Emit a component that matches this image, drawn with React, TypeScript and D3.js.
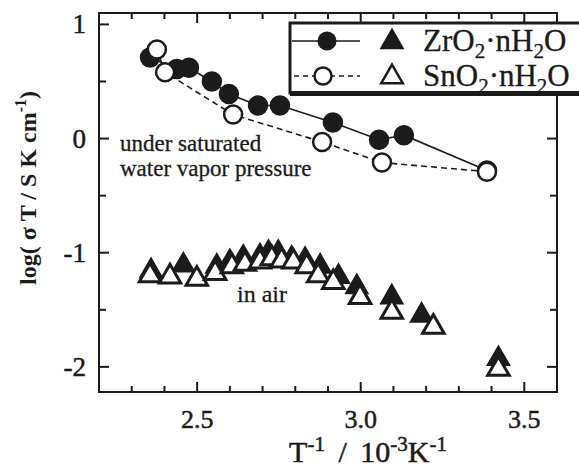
import * as d3 from "d3";

// saturated water vapor pressure (circles)
const zrSatT = [2.356, 2.438, 2.475, 2.545, 2.597, 2.686, 2.753, 2.915, 3.056, 3.132, 3.386];
const zrSatLog = [0.71, 0.61, 0.62, 0.50, 0.39, 0.29, 0.29, 0.14, -0.01, 0.03, -0.28];
const snSatT = [2.377, 2.402, 2.610, 2.882, 3.065, 3.386];
const snSatLog = [0.78, 0.58, 0.21, -0.03, -0.21, -0.29];

// in air (triangles)
const zrAirT = [2.359, 2.458, 2.560, 2.600, 2.641, 2.692, 2.718, 2.748, 2.789, 2.830, 2.876, 2.932, 2.988, 3.095, 3.186, 3.421];
const zrAirLog = [-1.16, -1.11, -1.12, -1.08, -1.04, -1.03, -1.00, -1.00, -1.05, -1.06, -1.12, -1.21, -1.30, -1.39, -1.55, -1.93];
const snAirT = [2.356, 2.417, 2.499, 2.555, 2.606, 2.646, 2.692, 2.728, 2.758, 2.794, 2.835, 2.870, 2.916, 2.998, 3.095, 3.222, 3.421];
const snAirLog = [-1.20, -1.21, -1.23, -1.18, -1.12, -1.10, -1.08, -1.05, -1.07, -1.08, -1.12, -1.20, -1.26, -1.39, -1.52, -1.65, -2.02];

const xMajor = [2.5, 3.0, 3.5];
const xLabels = ["2.5", "3.0", "3.5"];
const xMinor = [2.3, 2.4, 2.6, 2.7, 2.8, 2.9, 3.1, 3.2, 3.3, 3.4];
const yMajor = [1, 0, -1, -2];
const yLabels = ["1", "0", "-1", "-2"];
const yMinor = [0.5, -0.5, -1.5];

const W = 579, H = 468;
const left = 99, right = 557, top = 13, bottom = 392;
const ink = "#1b1b1b";
const serif = "'Liberation Serif', 'Times New Roman', serif";

const App = () => {
  const x = d3.scaleLinear().domain([2.2, 3.6]).range([left, right]);
  const y = d3.scaleLinear().domain([-2.22, 1.1]).range([bottom, top]);
  const line = d3.line<[number, number]>().x(d => x(d[0])).y(d => y(d[1]));
  const tri = d3.symbol().type(d3.symbolTriangle).size(200)();

  const zrSat = zrSatT.map((t, i) => [t, zrSatLog[i]] as [number, number]);
  const snSat = snSatT.map((t, i) => [t, snSatLog[i]] as [number, number]);

  const tick = (v: number, len: number, axis: "x" | "y") =>
    axis === "x" ? (
      <g key={"x" + v}>
        <line x1={x(v)} x2={x(v)} y1={bottom} y2={bottom - len} />
        <line x1={x(v)} x2={x(v)} y1={top} y2={top + len} />
      </g>
    ) : (
      <g key={"y" + v}>
        <line x1={left} x2={left + len} y1={y(v)} y2={y(v)} />
        <line x1={right} x2={right - len} y1={y(v)} y2={y(v)} />
      </g>
    );

  // slightly heavier glyphs, like the scanned original
  const txt = { fill: ink, stroke: ink, strokeWidth: 0.5 };

  return (
    <svg width={W} height={H} style={{ position: "absolute", left: 0, top: 0, background: "#fff" }}
      fontFamily={serif}>
      <rect width={W} height={H} fill="#fff" />
      {/* frame + ticks */}
      <g stroke={ink} strokeWidth={2}>
        <rect x={left} y={top} width={right - left} height={bottom - top} fill="none" />
        {xMajor.map(v => tick(v, 10, "x"))}
        {xMinor.map(v => tick(v, 6, "x"))}
        {yMajor.map(v => tick(v, 10, "y"))}
        {yMinor.map(v => tick(v, 7, "y"))}
      </g>
      {xMajor.map((v, i) => (
        <text key={v} x={x(v)} y={428} fontSize={26} textAnchor="middle" {...txt}>{xLabels[i]}</text>
      ))}
      {yMajor.map((v, i) => (
        <text key={v} x={86} y={y(v) + 9} fontSize={27} textAnchor="end" {...txt}>{yLabels[i]}</text>
      ))}
      <text x={368} y={462} fontSize={30} textAnchor="middle" wordSpacing={6} {...txt}>
        T<tspan dy={-11} fontSize={21}>-1</tspan><tspan dy={11}> / 10</tspan>
        <tspan dy={-11} fontSize={21}>-3</tspan><tspan dy={11}>K</tspan>
        <tspan dy={-11} fontSize={21}>-1</tspan>
      </text>
      <text transform={`translate(36,188) rotate(-90)`} fontSize={24}
        fontWeight="bold" textAnchor="middle" fill={ink}>
        log( σ T / S K cm<tspan dy={-10} fontSize={16}>-1</tspan><tspan dy={10}>)</tspan>
      </text>

      {/* saturated vapor: lines */}
      <path d={line(zrSat) || ""} fill="none" stroke={ink} strokeWidth={1.6} />
      <path d={line(snSat) || ""} fill="none" stroke={ink} strokeWidth={1.6} strokeDasharray="6,4" />
      {zrSat.map((d, i) => (
        <circle key={"zs" + i} cx={x(d[0])} cy={y(d[1])} r={9.5} fill={ink} stroke={ink} strokeWidth={1.5} />
      ))}
      {snSat.map((d, i) => (
        <circle key={"ss" + i} cx={x(d[0])} cy={y(d[1])} r={9} fill="#fff" stroke={ink} strokeWidth={2.5} />
      ))}

      {/* in air: triangles */}
      {zrAirT.map((t, i) => (
        <path key={"za" + i} d={tri} transform={`translate(${x(t)},${y(zrAirLog[i])})`} fill={ink}
          stroke={ink} strokeWidth={2} strokeLinejoin="miter" />
      ))}
      {snAirT.map((t, i) => (
        <path key={"sa" + i} d={tri} transform={`translate(${x(t)},${y(snAirLog[i])})`} fill="#fff"
          stroke={ink} strokeWidth={3} strokeLinejoin="miter" />
      ))}

      <text x={120} y={151} fontSize={23} {...txt} strokeWidth={0.3}>under saturated</text>
      <text x={120} y={176} fontSize={23} {...txt} strokeWidth={0.3}>water vapor pressure</text>
      <text x={237} y={302} fontSize={24} {...txt} strokeWidth={0.3}>in air</text>

      {/* legend */}
      <g>
        <rect x={290} y={23} width={300} height={70} fill="#fff" stroke={ink} strokeWidth={3} />
        <rect x={290} y={91} width={300} height={5} fill={ink} />
        <line x1={292} x2={360} y1={41} y2={41} stroke={ink} strokeWidth={1.6} />
        <circle cx={327} cy={41} r={9.5} fill={ink} />
        <path d={tri} transform="translate(392,42)" fill={ink} stroke={ink} strokeWidth={2} />
        <line x1={294} x2={360} y1={76} y2={76} stroke={ink} strokeWidth={1.6} strokeDasharray="5,4" />
        <circle cx={323} cy={76} r={8.5} fill="#fff" stroke={ink} strokeWidth={2.5} />
        <path d={tri} transform="translate(392,77)" fill="#fff" stroke={ink} strokeWidth={2.5} />
        <text x={423} y={51} fontSize={31} {...txt} strokeWidth={0.3}>
          ZrO<tspan dy={7} fontSize={21}>2</tspan><tspan dy={-7}>·nH</tspan>
          <tspan dy={7} fontSize={21}>2</tspan><tspan dy={-7}>O</tspan>
        </text>
        <text x={423} y={86} fontSize={31} {...txt} strokeWidth={0.3}>
          SnO<tspan dy={7} fontSize={21}>2</tspan><tspan dy={-7}>·nH</tspan>
          <tspan dy={7} fontSize={21}>2</tspan><tspan dy={-7}>O</tspan>
        </text>
      </g>
    </svg>
  );
};

export default App;
